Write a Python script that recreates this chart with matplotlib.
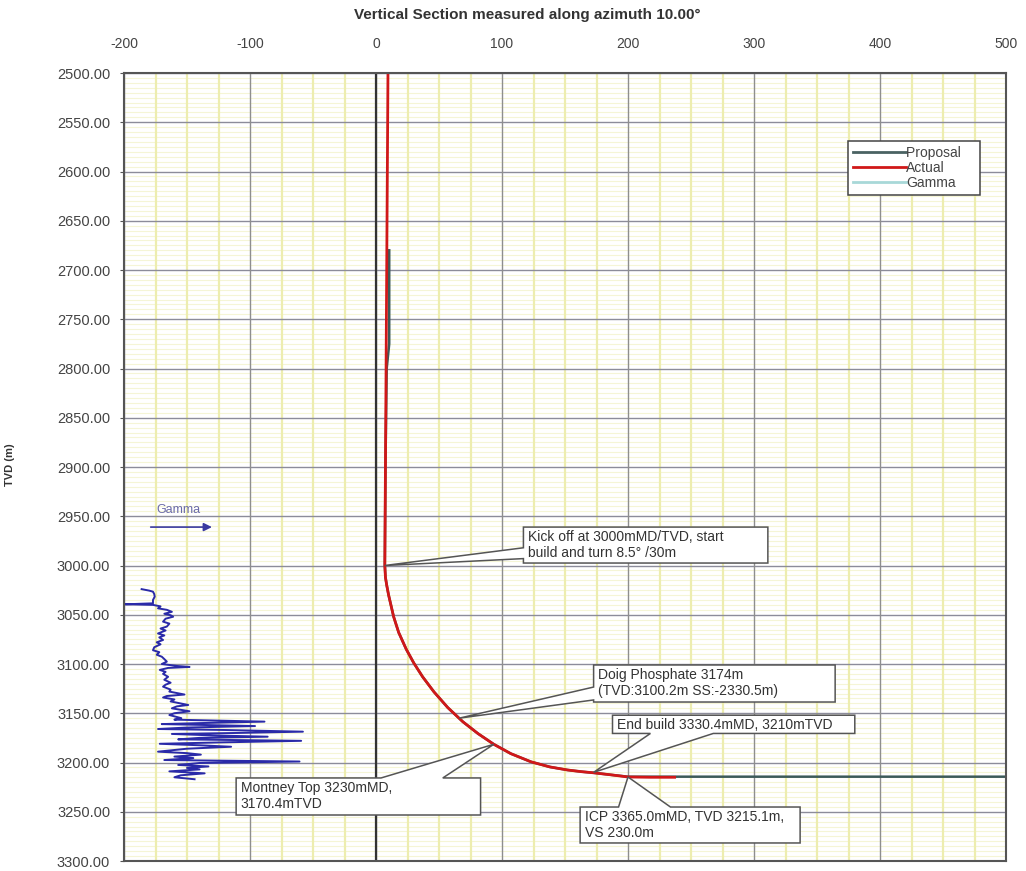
import matplotlib
matplotlib.use("Agg")
import numpy as np
import matplotlib.pyplot as plt
from matplotlib.patches import Polygon
from matplotlib.ticker import FormatStrFormatter
from matplotlib.lines import Line2D
from matplotlib.legend_handler import HandlerLine2D

plt.rcParams['font.family'] = ['Liberation Sans', 'DejaVu Sans']
plt.rcParams['axes.unicode_minus'] = False

# ---- well path data (vertical section along azimuth 10.00 deg) ----
actual_vs = [9.5, 9.0, 8.5, 8.0, 7.5, 7.0, 7.5, 8.5, 10, 14, 18, 24, 30, 37, 46, 57,
             69, 81, 93.5, 107, 123, 138, 152, 163, 173, 187, 200, 218, 237]
actual_tvd = [2500, 2600, 2700, 2800, 2900, 3000, 3012, 3020, 3030, 3052, 3068, 3085,
              3099, 3113, 3128.3, 3144.3, 3158.7, 3170.7, 3181.5, 3191, 3199.3, 3204.5,
              3207.6, 3209.3, 3210.5, 3212.6, 3214.7, 3215, 3215]

proposal_vs = [10.5, 10.5, 8.5, 7.5, 7.0, 7.5, 8.5, 10, 14, 18, 24, 30, 37, 46, 57, 69,
               81, 93.5, 107, 123, 138, 152, 163, 173, 187, 200, 240, 500]
proposal_tvd = [2680, 2775, 2800, 2900, 3000, 3012, 3020, 3030, 3052, 3068, 3085, 3099,
                3113, 3128.3, 3144.3, 3158.7, 3170.7, 3181.5, 3191, 3199.3, 3204.5,
                3207.6, 3209.3, 3210.5, 3212.6, 3214.4, 3214.4, 3214.4]

# gamma log plotted on the section scale
gamma_vs = [-186, -180, -177, -176, -175.6, -177, -177, -199, -177, -171, -173, -166,
            -162, -168, -163, -161, -167, -169, -164, -166, -171, -167, -173, -168,
            -172, -169, -174, -171, -176, -177, -172, -174, -170, -168, -166, -170,
            -158, -148, -165, -171.6, -167, -169, -165, -168, -163, -167, -169, -163,
            -164, -152, -166, -169, -160, -163, -149, -158, -162, -148, -160, -164,
            -154.5, -160, -88.5, -140, -170, -96, -150, -173, -120, -58, -110, -162,
            -130, -86, -140, -157, -59.4, -120, -171.6, -140, -115, -150, -173, -150,
            -139, -160, -145, -168, -60.7, -140, -157, -133, -150, -140, -164, -136,
            -155, -160, -144]
gamma_tvd = [3024, 3025.5, 3026.6, 3029, 3031.6, 3035, 3038.4, 3039.4, 3040, 3041.5,
             3043.5, 3045, 3047, 3049, 3050.5, 3052, 3054, 3057, 3059, 3062, 3064, 3066,
             3069, 3071, 3073, 3075.6, 3078, 3080, 3083, 3086, 3088, 3090.6, 3092.6,
             3095, 3097.6, 3100, 3102, 3103, 3104, 3106, 3108, 3110, 3113, 3116, 3119,
             3121, 3123, 3126, 3128, 3131, 3132.5, 3134, 3136, 3138, 3141.6, 3143, 3145,
             3148, 3150, 3151.8, 3155, 3156.5, 3158.5, 3160, 3161, 3163, 3164.5, 3166,
             3167, 3168.7, 3170, 3171, 3172.5, 3173.8, 3175, 3176.5, 3178, 3179.5, 3181,
             3182.5, 3184, 3186, 3189, 3190.5, 3192, 3194, 3195.5, 3197.5, 3199, 3200.5,
             3202.5, 3204, 3205.5, 3207, 3209, 3211, 3213, 3215, 3217]

x_ticks = [-200, -100, 0, 100, 200, 300, 400, 500]
y_ticks = [2500, 2550, 2600, 2650, 2700, 2750, 2800, 2850, 2900, 2950, 3000, 3050,
           3100, 3150, 3200, 3250, 3300]

fig = plt.figure(figsize=(10.26, 8.71), dpi=100)
ax = fig.add_axes([124 / 1026, 1 - 861 / 871, 882 / 1026, 788 / 871])

ax.set_xlim(-200, 500)
ax.set_ylim(3300, 2500)

# grid: fine yellow lines, then the main grey ones
for t in np.arange(2505, 3300, 5):
    if t % 50:
        ax.axhline(t, color='#f5f5d6', lw=0.8, zorder=0.3)
for v in np.arange(-175, 500, 25):
    if v % 100:
        ax.axvline(v, color='#ededb0', lw=1.6, zorder=0.4)
for t in y_ticks:
    ax.axhline(t, color='#8c8c9a', lw=1.0, zorder=1)
for v in x_ticks:
    ax.axvline(v, color='#8e8e8e', lw=1.0, zorder=1)
ax.axvline(0, color='#333333', lw=1.6, zorder=2)

ax.set_xticks(x_ticks)
ax.set_yticks(y_ticks)
ax.xaxis.tick_top()
ax.yaxis.set_major_formatter(FormatStrFormatter('%.2f'))
ax.tick_params(axis='x', which='major', length=0, pad=16, labelsize=10, labelcolor='#444444')
ax.tick_params(axis='y', which='major', length=3, pad=7, labelsize=10.5, labelcolor='#444444',
               color='#555555')
for s in ax.spines.values():
    s.set_color('#555555')
    s.set_linewidth(1.5)
    s.set_zorder(9)

# curves
ax.plot(gamma_vs, gamma_tvd, color='#2a2aa8', lw=1.4, zorder=3)
ax.plot(proposal_vs, proposal_tvd, color='#3c5a5a', lw=1.8, zorder=3)
ax.plot(actual_vs, actual_tvd, color='#d01818', lw=2.0, zorder=4)

# gamma direction marker
ax.annotate('', xy=(-128, 2961), xytext=(-181, 2961),
            arrowprops=dict(arrowstyle='-|>', color='#3a3aa0', lw=1.2,
                            mutation_scale=12), zorder=5)
ax.text(-157, 2944, 'Gamma', ha='center', va='center', fontsize=9, color='#6a6aa8')


def callout(box, side, base, tip, lines):
    x0, x1, y0, y1 = box  # y0 = top (smaller TVD), y1 = bottom
    if side == 'left':
        pts = [(x0, y0), (x1, y0), (x1, y1), (x0, y1), (x0, base[1]), tip, (x0, base[0])]
    elif side == 'bottom':
        pts = [(x0, y0), (x1, y0), (x1, y1), (base[1], y1), tip, (base[0], y1), (x0, y1)]
    else:  # top
        pts = [(x0, y0), (base[0], y0), tip, (base[1], y0), (x1, y0), (x1, y1), (x0, y1)]
    ax.add_patch(Polygon(pts, closed=True, facecolor='white', edgecolor='#555555',
                         lw=1.1, zorder=6))
    ax.text(x0 + 3.5, y0 + 3.2, '\n'.join(lines), ha='left', va='top', fontsize=10,
            color='#333333', linespacing=1.2, zorder=7)


callout((117, 311, 2961, 2997.5), 'left', (2982, 2993), (7, 3000),
        ['Kick off at 3000mMD/TVD, start', 'build and turn 8.5\u00b0 /30m'])
callout((172.7, 364.4, 3101, 3138.6), 'left', (3123.4, 3136.5), (66, 3155),
        ['Doig Phosphate 3174m', '(TVD:3100.2m SS:-2330.5m)'])
callout((187.7, 380, 3152, 3170.5), 'bottom', (217.8, 267.7), (172.7, 3210),
        ['End build 3330.4mMD, 3210mTVD'])
callout((162, 336.6, 3245.2, 3281.7), 'top', (192.5, 233.7), (200, 3214.7),
        ['ICP 3365.0mMD, TVD 3215.1m,', 'VS 230.0m'])
callout((-111, 83, 3215.7, 3253.3), 'top', (4, 53), (93.5, 3181.5),
        ['Montney Top 3230mMD,', '3170.4mTVD'])


class IndentedLine(HandlerLine2D):
    """Legend line drawn only over the right part of the handle box."""

    def create_artists(self, legend, orig_handle, xdescent, ydescent, width, height,
                       fontsize, trans):
        artists = super().create_artists(legend, orig_handle, xdescent, ydescent,
                                         width, height, fontsize, trans)
        for a in artists:
            if isinstance(a, Line2D) and len(a.get_xdata()) == 2:
                x0, x1 = a.get_xdata()
                a.set_xdata([x0 + (x1 - x0) * 0.3, x1])
        return artists


# legend
handles = [Line2D([], [], color='#4a6262', lw=2),
           Line2D([], [], color='#d01818', lw=2),
           Line2D([], [], color='#a8d8d8', lw=2)]
leg = ax.legend(handles, ['Proposal\u2003', 'Actual', 'Gamma'], loc='upper left',
                bbox_to_anchor=(0.821, 0.9137), fontsize=10, frameon=True,
                fancybox=False, framealpha=1, edgecolor='#444444', handlelength=3.8,
                handletextpad=0.05, labelspacing=0.08, borderpad=0.35, borderaxespad=0,
                labelcolor='#444444',
                handler_map={Line2D: IndentedLine()})
leg.get_frame().set_linewidth(1.1)
leg.set_zorder(8)

ax.set_ylabel('TVD (m)', fontsize=8, fontweight='bold', color='#333333')
ax.yaxis.set_label_coords(-(124 - 15) / 882, (861 - 465) / 788)

fig.text(527 / 1026, 1 - 15 / 871, 'Vertical Section measured along azimuth 10.00\u00b0',
         ha='center', va='center', fontsize=11, fontweight='bold', color='#333333')

fig.savefig('out.png', dpi=100)
